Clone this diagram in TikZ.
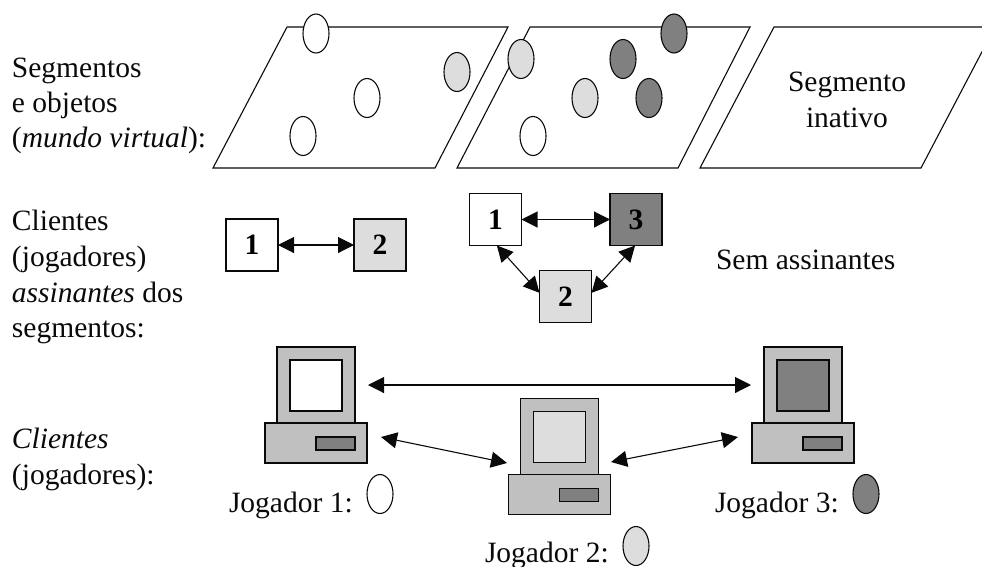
\documentclass[tikz,border=0pt]{standalone}
\usepackage{fontspec}
\setmainfont{Liberation Serif}
\usetikzlibrary{arrows.meta,shapes.geometric}
\definecolor{lightg}{HTML}{DDDDDD}
\definecolor{midg}{HTML}{C0C0C0}
\definecolor{darkg}{HTML}{808080}
\definecolor{ink}{HTML}{0A0A0A}
\newcommand{\pcunit}[4]{% name, dx, dy, screen colour
  \node[pcpart,minimum width=78pt,minimum height=76pt] (#1m) at (316+#2,385+#3) {};
  \node[pcpart,fill=#4,minimum width=52pt,minimum height=51pt] (#1s) at (316+#2,385.5+#3) {};
  \node[pcpart,minimum width=102pt,minimum height=40pt] (#1b) at (316+#2,443+#3) {};
  \node[pcpart,fill=darkg,minimum width=39pt,minimum height=13pt] (#1k) at (335.5+#2,443.5+#3) {};
}
\tikzset{
  seg/.style={draw=ink,line width=1.1pt,fill=white,line join=miter},
  obj/.style={ellipse,draw=ink,line width=1.1pt,minimum width=26pt,minimum height=39pt,inner sep=0pt,outer sep=0pt},
  sq/.style={rectangle,draw=ink,line width=1.1pt,minimum width=52pt,minimum height=52pt,inner sep=0pt,outer sep=0pt,font=\fontsize{29.5pt}{35pt}\selectfont\bfseries},
  pcpart/.style={rectangle,draw=ink,line width=1.1pt,fill=midg,inner sep=0pt,outer sep=0pt},
  lbl/.style={anchor=base west,inner sep=0pt,outer sep=0pt,text=ink,font=\fontsize{29.5pt}{35pt}\selectfont},
  lblc/.style={lbl,anchor=base},
  link/.style={draw=ink,line width=1.1pt,{Triangle[length=16pt,width=16pt]}-{Triangle[length=16pt,width=16pt]}},
}
\begin{document}
\begin{tikzpicture}[x=1pt,y=-1pt]
\useasboundingbox (0,0) rectangle (982,566);
\begin{scope}
\clip (0,0) rectangle (982,566);
\draw[seg] (287,27) -- (508,27) -- (435,168) -- (213,168) -- cycle;
\draw[seg] (530,27) -- (750,27) -- (678,168) -- (457,168) -- cycle;
\draw[seg] (774,27) -- (995,27) -- (921,168) -- (700,168) -- cycle;
\end{scope}
% objects
\node[obj,fill=white] (o1) at (316,33.5) {};
\node[obj,fill=lightg] (o2) at (457,72) {};
\node[obj,fill=white] (o3) at (367,98) {};
\node[obj,fill=white] (o4) at (303,136) {};
\node[obj,fill=lightg] (o5) at (521,59) {};
\node[obj,fill=lightg] (o6) at (585,98) {};
\node[obj,fill=white] (o7) at (533,136) {};
\node[obj,fill=darkg] (o8) at (674,33.5) {};
\node[obj,fill=darkg] (o9) at (623,59) {};
\node[obj,fill=darkg] (o10) at (649,98) {};
% texts, top row
\node[lblc] (t1) at (847,91) {Segmento};
\node[lblc] (t2) at (847,127) {inativo};
\node[lbl] (a1) at (12,77) {Segmentos};
\node[lbl] (a2) at (12,112) {e objetos};
\node[lbl] (a3) at (12,147) {(\textit{mundo virtual}):};
\node[lbl] (b1) at (12,230) {Clientes};
\node[lbl] (b2) at (12,266) {(jogadores)};
\node[lbl] (b3) at (12,302) {\textit{assinantes} dos};
\node[lbl] (b4) at (12,337) {segmentos:};
\node[lbl] (c1) at (12,448) {\textit{Clientes}};
\node[lbl] (c2) at (12,484) {(jogadores):};
\node[lbl] (sem) at (716,269) {Sem assinantes};
% subscribers
\node[sq,fill=white] (s1) at (252,245) {1};
\node[sq,fill=lightg] (s2) at (380,245) {2};
\node[sq,fill=white] (r1) at (495.5,219.5) {1};
\node[sq,fill=darkg] (r3) at (636,219.5) {3};
\node[sq,fill=lightg] (r2) at (565.5,296.5) {2};
\draw[link] (s1.east) -- (s2.west);
\draw[link] (r1.east) -- (r3.west);
\draw[link] (r1.-87) -- (r2.172);
\draw[link] (r3.-92) -- (r2.8);
% computers
\pcunit{p}{0}{0}{white}
\pcunit{q}{243.3}{51.5}{lightg}
\pcunit{u}{487}{0}{darkg}
\coordinate (pr) at (381,437);
\coordinate (ql) at (507,463);
\coordinate (qr) at (611,462);
\coordinate (ul) at (738,437);
\draw[link,shorten <=13pt,shorten >=13pt] (pm.east) -- (um.west);
\draw[link] (pr) -- (ql);
\draw[link] (ul) -- (qr);
% players
\node[lbl] (j1) at (229,512) {Jogador 1:};
\node[obj,fill=white] (e1) at (380,494) {};
\node[lbl] (j2) at (485,562.7) {Jogador 2:};
\node[obj,fill=lightg] (e2) at (636,546) {};
\node[lbl] (j3) at (715,512) {Jogador 3:};
\node[obj,fill=darkg] (e3) at (866,494) {};
\end{tikzpicture}
\end{document}
